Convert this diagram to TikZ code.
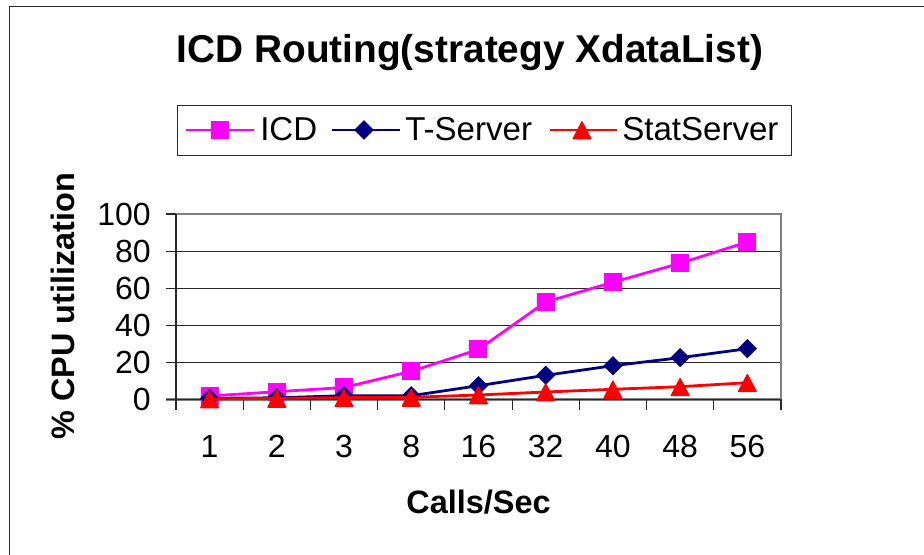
\documentclass[tikz,border=0pt]{standalone}
\usepackage{fontspec}
\setmainfont{Liberation Sans}
\usetikzlibrary{shapes.geometric}
\definecolor{mag}{RGB}{255,0,255}
\definecolor{navyc}{RGB}{0,0,128}
\definecolor{axisg}{RGB}{128,128,128}
\definecolor{griddark}{RGB}{40,40,40}
\newcommand{\tinyfont}{\fontsize{24}{24}\selectfont}
\newcommand{\legfont}{\fontsize{24.8}{25}\selectfont}
\newcommand{\titlefont}{\fontsize{29.1}{30}\selectfont\bfseries}
\newcommand{\axlabfont}{\fontsize{24.3}{25}\selectfont\bfseries}
\newcommand{\tritip}[1]{\fill[red,rounded corners=0.8pt] ([shift={(-10,9.5)}]#1) -- ([shift={(10,9.5)}]#1) -- ([shift={(0,-9.5)}]#1) -- cycle;}
\tikzset{
  x=0.75pt,y=-0.75pt,
  gridline/.style={griddark,line width=0.9pt},
  plotedge/.style={axisg,line width=2.2pt},
  tickline/.style={griddark,line width=0.8pt},
  icdline/.style={mag,line width=2.1pt},
  tsline/.style={navyc,line width=2.1pt},
  statline/.style={red,line width=2.1pt},
  sqmark/.style={fill=mag,rectangle,inner sep=0pt,minimum size=13.5pt},
  dimark/.style={fill=navyc,diamond,aspect=1,inner sep=0pt,minimum size=14.6pt},
  ticklab/.style={font=\tinyfont,inner sep=0pt,text=black},
  legtext/.style={font=\legfont,inner sep=0pt,anchor=base west,text=black},
}
\begin{document}
\begin{tikzpicture}
\useasboundingbox (0,0) rectangle (924,555);
\fill[white] (0,0) rectangle (924,555);
% outer frame: only the left and top edges show
\coordinate (fbl) at (9.5,555); \coordinate (ftl) at (9.5,6.5); \coordinate (ftr) at (924,6.5);
\draw[griddark,line width=1.1pt] (fbl) -- (ftl) -- (ftr);
% title
\node[font=\titlefont,inner sep=0pt] (title) at (470,53) {ICD Routing(strategy XdataList)};
% legend
\node[draw=griddark,line width=0.8pt,minimum width=460.5pt,minimum height=37.5pt,inner sep=0pt,anchor=north west] (legend) at (177,105) {};
\coordinate (la1) at (186,130); \coordinate (la2) at (254,130); \node[sqmark] (lam) at (220,130) {};
\coordinate (lb1) at (332,130); \coordinate (lb2) at (400,130); \node[dimark] (lbm) at (364,130) {};
\coordinate (lc1) at (550,130); \coordinate (lc2) at (617,130); \coordinate (lcm) at (582,130);
\draw[icdline] (la1) -- (la2);
\node[sqmark] at (lam) {};
\draw[tsline] (lb1) -- (lb2);
\node[dimark] at (lbm) {};
\draw[statline] (lc1) -- (lc2);
\tritip{lcm}
\node[legtext] (lta) at (260,141) {ICD};
\node[legtext] (ltb) at (405,141) {T-Server};
\node[legtext] (ltc) at (622,141) {StatServer};
% axis labels
\node[font=\axlabfont,inner sep=0pt,rotate=90] (ylab) at (63,306) {\% CPU utilization};
\node[font=\axlabfont,inner sep=0pt] (xlab) at (478.5,502) {Calls/Sec};
% gridlines
\foreach \v/\y in {80/251.3,60/288.3,40/325.3,20/362.7}{
  \coordinate (gl\v) at (166,\y); \coordinate (gr\v) at (781,\y);
  \draw[gridline] (gl\v) -- (gr\v);
  \node[ticklab,anchor=east] (yt\v) at (151,\y) {\v};
}
\coordinate (gl100) at (166,214); \coordinate (gr100) at (781,214);
\coordinate (gl0) at (166,399.5); \coordinate (gr0) at (781,399.5);
\node[ticklab,anchor=east] (yt100) at (151,214) {100};
\node[ticklab,anchor=east] (yt0) at (151,399.5) {0};
% plot edges
\coordinate (ptl) at (176,214);
\coordinate (pbl) at (176,399.5);
\draw[plotedge] (ptl) -- (gr100) -- (gr0);
\draw[axisg,line width=1.8pt] (ptl) -- (pbl);
\draw[axisg,line width=1.8pt] (gl0) -- (gr0);
\draw[griddark,line width=0.9pt] (gl0) -- (gr0);
\draw[griddark,line width=0.9pt] (ptl) -- (pbl);
\draw[griddark,line width=0.9pt] (gl100) -- (ptl);
% x ticks
\foreach \i in {0,...,9}{
  \coordinate (xa\i) at ({176+67.22*\i},399.5);
  \coordinate (xb\i) at ({176+67.22*\i},410.5);
  \draw[tickline] (xa\i) -- (xb\i);
}
\foreach \i/\t in {0/1,1/2,2/3,3/8,4/16,5/32,6/40,7/48,8/56}{
  \node[ticklab] (xt\i) at ({209.6+67.22*\i},446) {\t};
}
% series points
\foreach \i/\a/\b/\c in {0/396/398.3/399,1/391.7/397.8/398.3,2/387.5/395.7/397.7,3/371.3/395.7/397.3,4/349.5/385.7/395,5/302/375.3/392,6/282.3/365.7/389.3,7/263.3/357.7/386.7,8/242/348.7/382.7}{
  \coordinate (a\i) at ({209.6+67.22*\i},\a);
  \coordinate (b\i) at ({209.6+67.22*\i},\b);
  \coordinate (c\i) at ({209.6+67.22*\i},\c);
}
\draw[icdline] (a0)--(a1)--(a2)--(a3)--(a4)--(a5)--(a6)--(a7)--(a8);
\foreach \i in {0,...,8}{\node[sqmark] (am\i) at (a\i) {};}
\draw[tsline] (b0)--(b1)--(b2)--(b3)--(b4)--(b5)--(b6)--(b7)--(b8);
\foreach \i in {0,...,8}{\node[dimark] (bm\i) at (b\i) {};}
\draw[statline] (c0)--(c1)--(c2)--(c3)--(c4)--(c5)--(c6)--(c7)--(c8);
\foreach \i in {0,...,8}{\tritip{c\i}}
\end{tikzpicture}
\end{document}
